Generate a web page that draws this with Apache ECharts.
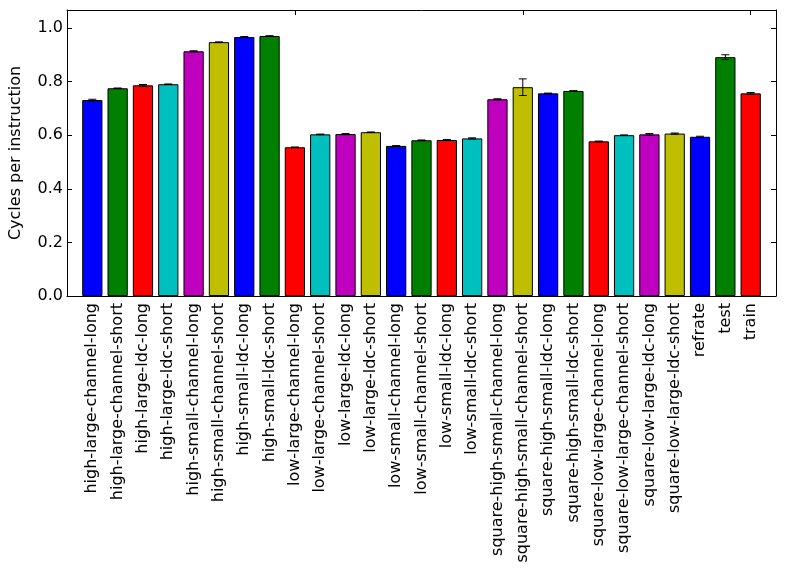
<!DOCTYPE html>
<html lang="en">
<head>
    <meta charset="UTF-8">
    <title>Cycles per instruction</title>
    <script src="https://cdn.jsdelivr.net/npm/echarts@6/dist/echarts.min.js"></script>
    <style>
        html, body { margin: 0; padding: 0; background: #fff; }
        #main { width: 785px; height: 581px; }
    </style>
</head>
<body>
<div id="main"></div>
<script>
    // 数据
    var categories = ['high-large-channel-long', 'high-large-channel-short', 'high-large-ldc-long', 'high-large-ldc-short',
        'high-small-channel-long', 'high-small-channel-short', 'high-small-ldc-long', 'high-small-ldc-short',
        'low-large-channel-long', 'low-large-channel-short', 'low-large-ldc-long', 'low-large-ldc-short',
        'low-small-channel-long', 'low-small-channel-short', 'low-small-ldc-long', 'low-small-ldc-short',
        'square-high-small-channel-long', 'square-high-small-channel-short', 'square-high-small-ldc-long', 'square-high-small-ldc-short',
        'square-low-large-channel-long', 'square-low-large-channel-short', 'square-low-large-ldc-long', 'square-low-large-ldc-short',
        'refrate', 'test', 'train'];
    var cpi = [0.731, 0.775, 0.786, 0.790, 0.913, 0.947, 0.966, 0.970,
        0.555, 0.603, 0.604, 0.611, 0.560, 0.581, 0.582, 0.588,
        0.734, 0.779, 0.756, 0.765, 0.577, 0.600, 0.603, 0.606,
        0.594, 0.891, 0.756];
    var cpiErr = [0.003, 0.001, 0.003, 0.001, 0.002, 0.001, 0.002, 0.001,
        0.001, 0.001, 0.002, 0.001, 0.001, 0.001, 0.002, 0.002,
        0.002, 0.031, 0.001, 0.001, 0.001, 0.001, 0.003, 0.002,
        0.002, 0.009, 0.003];
    var yTicks = [0, 0.2, 0.4, 0.6, 0.8, 1.0];
    var palette = ['#0000ff', '#008000', '#ff0000', '#00bfbf', '#bf00bf', '#bfbf00'];

    // 两边各留一个空位，和原图的留白一致
    var axisData = [''].concat(categories, ['']);
    var barData = ['-'].concat(cpi, ['-']);
    var errData = cpi.map(function (v, i) { return [i + 1, v, cpiErr[i]]; });

    var font = 'DejaVu Sans';
    var myChart = echarts.init(document.getElementById('main'), null, {renderer: 'canvas'});

    var xBase = {
        type: 'category',
        data: axisData,
        boundaryGap: false,
        axisLine: {onZero: false, lineStyle: {color: '#000', width: 1}},
        axisTick: {inside: true, length: 5, lineStyle: {color: '#000'}},
        splitLine: {show: false}
    };
    var yBase = {
        type: 'value',
        min: 0,
        max: 1.067,
        interval: 0.2,
        axisLine: {show: true, onZero: false, lineStyle: {color: '#000', width: 1}},
        axisTick: {show: true, inside: true, length: 5, lineStyle: {color: '#000'}},
        splitLine: {show: false}
    };

    var option = {
        animation: false,
        grid: {left: 67, right: 9, top: 10, bottom: 285},
        xAxis: [
            Object.assign({}, xBase, {
                position: 'bottom',
                axisLabel: {rotate: 90, interval: 0, margin: 7, color: '#000', fontFamily: font, fontSize: 16}
            }),
            Object.assign({}, xBase, {position: 'top', axisLabel: {show: false}})
        ],
        yAxis: [
            Object.assign({}, yBase, {
                position: 'left',
                name: 'Cycles per instruction',
                nameLocation: 'middle',
                nameGap: 43,
                nameTextStyle: {color: '#000', fontFamily: font, fontSize: 16},
                axisLabel: {
                    color: '#000', fontFamily: font, fontSize: 16, margin: 4,
                    showMaxLabel: false,
                    formatter: function (v) {
                        return yTicks.indexOf(Math.round(v * 10) / 10) >= 0 && Math.abs(v * 5 - Math.round(v * 5)) < 1e-6 ? v.toFixed(1) : '';
                    }
                }
            }),
            Object.assign({}, yBase, {position: 'right', axisLabel: {show: false}})
        ],
        series: [
            {
                type: 'bar',
                data: barData,
                barWidth: '80%',
                itemStyle: {
                    color: function (p) { return palette[(p.dataIndex - 1) % palette.length]; },
                    borderColor: '#000',
                    borderWidth: 1
                }
            },
            {
                type: 'custom',
                data: errData,
                z: 10,
                renderItem: function (params, api) {
                    var x = api.value(0), v = api.value(1), e = api.value(2);
                    var lo = api.coord([x, v - e]);
                    var hi = api.coord([x, v + e]);
                    var st = {stroke: '#000', lineWidth: 1};
                    return {
                        type: 'group',
                        children: [
                            {type: 'line', shape: {x1: lo[0], y1: lo[1], x2: hi[0], y2: hi[1]}, style: st},
                            {type: 'line', shape: {x1: lo[0] - 4, y1: lo[1], x2: lo[0] + 4, y2: lo[1]}, style: st},
                            {type: 'line', shape: {x1: hi[0] - 4, y1: hi[1], x2: hi[0] + 4, y2: hi[1]}, style: st}
                        ]
                    };
                }
            }
        ]
    };

    myChart.setOption(option);
</script>
</body>
</html>
